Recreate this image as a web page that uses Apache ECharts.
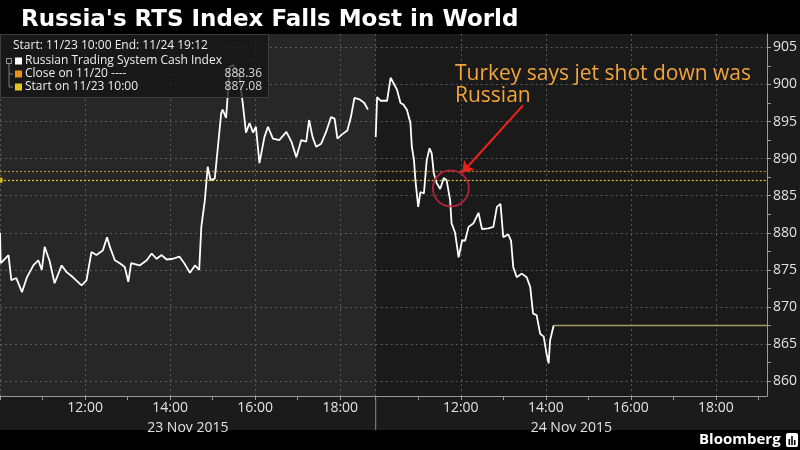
<!DOCTYPE html>
<html><head><meta charset="utf-8">
<script src="https://cdn.jsdelivr.net/npm/echarts@6/dist/echarts.min.js"></script>
<style>html,body{margin:0;padding:0;background:#000}#c{width:800px;height:450px}</style>
</head><body><div id="c"></div>
<script>
// ---------- data ----------
const titleText = "Russia's RTS Index Falls Most in World";
const dayLabels = ['23 Nov 2015', '24 Nov 2015'];
const sessionDay1 = ['10:00', '18:50'];
const sessionDay2 = ['10:00', '19:12'];

const day1Times = ['10:00','10:01','10:07','10:12','10:16','10:23','10:31','10:38','10:47','10:54','10:59','11:03','11:10','11:17','11:27','11:34','11:43','11:55','12:02','12:09','12:16','12:25','12:31','12:35','12:42','12:49','12:56','13:01','13:05','13:17','13:27','13:34','13:41','13:48','13:55','14:04','14:13','14:20','14:28','14:35','14:41','14:44','14:49','14:53','14:57','15:03','15:07','15:12','15:14','15:19','15:24','15:29','15:33','15:38','15:43','15:47','15:52','15:57','16:01','16:06','16:13','16:18','16:25','16:34','16:44','16:51','16:58','17:05','17:12','17:16','17:21','17:26','17:33','17:40','17:47','17:52','17:56','18:03','18:10','18:15','18:20','18:27','18:34','18:39'];
const day1Values = [880.0,875.9,876.5,877.0,873.6,873.9,872.0,874.0,875.6,876.3,875.0,878.1,876.2,873.2,875.6,874.7,874.0,872.9,873.6,877.4,877.0,877.6,879.4,878.1,876.3,875.9,875.4,873.4,875.9,875.6,876.3,877.2,876.5,877.0,876.4,876.5,876.8,875.9,874.6,875.6,875.0,880.8,884.4,888.9,887.1,887.3,891.2,896.1,896.6,895.5,902.4,902.6,902.0,900.9,897.0,893.5,894.8,893.5,894.3,889.4,892.9,894.3,892.7,892.5,893.6,892.3,890.2,892.5,892.3,895.2,892.9,891.6,892.0,893.6,895.6,895.4,892.7,893.3,893.8,895.6,898.2,898.0,897.5,896.6];

const day2Times = ['10:00','10:02','10:07','10:16','10:21','10:25','10:30','10:35','10:39','10:44','10:49','10:51','10:54','10:56','11:00','11:03','11:08','11:12','11:16','11:19','11:22','11:26','11:31','11:36','11:40','11:45','11:47','11:52','11:57','12:02','12:06','12:11','12:18','12:25','12:30','12:39','12:46','12:51','12:56','13:00','13:07','13:11','13:14','13:19','13:26','13:33','13:38','13:42','13:47','13:52','13:57','14:01','14:04','14:06','14:11'];
const day2Values = [892.9,898.3,897.8,897.8,900.9,900.2,899.3,897.5,897.3,896.6,894.8,891.6,889.8,887.1,883.5,885.5,885.3,889.8,891.4,890.7,888.0,886.7,885.9,887.4,887.1,884.4,881.3,880.0,876.7,879.0,878.9,880.8,881.3,882.7,880.5,880.6,880.8,883.5,883.9,879.4,879.8,878.9,875.4,874.0,874.5,874.0,872.7,869.1,868.9,866.4,866.0,863.7,862.4,865.5,867.5];

const lastPriceTimes = ['14:11', '19:12'];
const lastPrice = 867.5;
const closeOn1120 = 888.36;
const startOn1123 = 887.08;

const yLabelValues = [860, 865, 870, 875, 880, 885, 890, 895, 900, 905];
const yTickValues = [860, 862.5, 865, 867.5, 870, 872.5, 875, 877.5, 880, 882.5, 885, 887.5, 890, 892.5, 895, 897.5, 900, 902.5, 905];
const yRange = [858, 906.8];
const hourTicks = ['10:00','11:00','12:00','13:00','14:00','15:00','16:00','17:00','18:00','19:00'];
const labelHours = ['12:00','14:00','16:00','18:00'];
const gridHours = ['10:00','12:00','14:00','16:00','18:00'];

const legendHeader = 'Start: 11/23 10:00 End: 11/24 19:12';
const legendNames = ['Russian Trading System Cash Index', 'Close on 11/20 ----', 'Start on 11/23 10:00'];
const legendValues = ['', '888.36', '887.08'];

const annotationLines = ['Turkey says jet shot down was', 'Russian'];
const annotationCircle = ['11:46', 886.0];
const annotationArrow = [['13:28', 897.2], ['12:02', 888.1]];

// ---------- helpers ----------
const toMin = t => { const p = t.split(':'); return +p[0] * 60 + +p[1]; };
const fmt = v => String(Math.floor(v / 60)).padStart(2, '0') + ':' + String(v % 60).padStart(2, '0');
const pairs = (ts, vs) => ts.map((t, i) => [toMin(t), vs[i]]);

const COL = {
  line: '#ffffff', grid: '#5a5a5a', axis: '#9a9a9a', text: '#e2e2e2',
  close: '#d0922e', start: '#dcc82c', last: '#a39b5c',
  legendClose: '#ef8f16', legendStart: '#e2c61c',
  note: '#f2a53a', arrow: '#e8231c', circle: '#b5213d'
};
const FONT = '"Open Sans", "Noto Sans", sans-serif';
const TITLE_FONT = '"DejaVu Sans", "Open Sans", sans-serif';

const plotTop = 34, plotBottom = 54, splitX = 375.7, rightPad = 33;

function xAxisFor(i, session) {
  const lo = toMin(session[0]), hi = toMin(session[1]);
  return {
    type: 'value', gridIndex: i, min: lo, max: hi,
    axisLine: { show: true, lineStyle: { color: COL.axis, width: 1 } },
    axisTick: { show: true, length: 4, lineStyle: { color: COL.axis },
      customValues: hourTicks.map(toMin).filter(v => v >= lo && v <= hi) },
    axisLabel: { show: true, color: COL.text, fontSize: 14, fontFamily: FONT, margin: 5,
      customValues: labelHours.map(toMin).filter(v => v > lo && v < hi), formatter: v => fmt(v) },
    splitLine: { show: false },
    name: dayLabels[i], nameLocation: 'middle', nameGap: 25,
    nameTextStyle: { color: COL.text, fontSize: 14, fontFamily: FONT }
  };
}

function yAxisFor(i, showLabels) {
  return {
    type: 'value', gridIndex: i, min: yRange[0], max: yRange[1], position: 'right',
    axisLine: { show: showLabels, lineStyle: { color: COL.axis } },
    axisTick: { show: showLabels, inside: false, length: 4, lineStyle: { color: COL.axis }, customValues: yTickValues },
    axisLabel: { show: showLabels, color: COL.text, fontSize: 14, fontFamily: FONT, margin: 6, customValues: yLabelValues },
    splitLine: { show: false }
  };
}

function gridMarkLines(session) {
  const lo = toMin(session[0]), hi = toMin(session[1]);
  const dotted = { color: COL.grid, type: [2, 3], width: 1 };
  const data = yLabelValues.map(v => ({ yAxis: v, lineStyle: dotted }))
    .concat(gridHours.map(toMin).filter(v => v >= lo && v < hi).map(v => ({ xAxis: v, lineStyle: dotted })))
    .concat([
      { yAxis: closeOn1120, lineStyle: { color: COL.close, type: [2, 2], width: 1.2, opacity: 0.9 } },
      { yAxis: startOn1123, lineStyle: { color: COL.start, type: [2, 2], width: 1.2 } }
    ]);
  return { silent: true, symbol: 'none', z: 1, label: { show: false }, animation: false, data };
}

const chart = echarts.init(document.getElementById('c'), null, { renderer: 'canvas' });

const legendY = [61, 74, 87];
const legendSwatch = [COL.line, COL.legendClose, COL.legendStart];
const legendGraphics = [
  { type: 'rect', z: 100, shape: { x: 0.5, y: 34.5, width: 268, height: 63 },
    style: { fill: 'rgba(20,20,20,0.78)', stroke: '#3e3e3e', lineWidth: 1 } },
  { type: 'text', z: 101, style: { text: legendHeader, x: 13, y: 46, fill: '#eeeeee', font: '12px ' + FONT, verticalAlign: 'middle', textVerticalAlign: 'middle' } },
  { type: 'rect', z: 101, shape: { x: 6.5, y: 58.5, width: 5, height: 5 }, style: { fill: 'none', stroke: '#9a9a9a', lineWidth: 1 } },
  { type: 'polyline', z: 101, shape: { points: [[9, 64], [9, 87], [13, 87]] }, style: { stroke: '#7a7a7a', lineWidth: 1, fill: null } },
  { type: 'polyline', z: 101, shape: { points: [[9, 74], [13, 74]] }, style: { stroke: '#7a7a7a', lineWidth: 1, fill: null } }
];
legendNames.forEach((n, i) => {
  legendGraphics.push({ type: 'rect', z: 101, shape: { x: 15, y: legendY[i] - 3.5, width: 7, height: 7 }, style: { fill: legendSwatch[i] } });
  legendGraphics.push({ type: 'text', z: 101, style: { text: n, x: 25, y: legendY[i], fill: '#eeeeee', font: '12px ' + FONT, verticalAlign: 'middle', textVerticalAlign: 'middle' } });
  if (legendValues[i]) legendGraphics.push({ type: 'text', z: 101, style: { text: legendValues[i], x: 262, y: legendY[i], fill: '#d8d8d8', font: '12px ' + FONT, align: 'right', textAlign: 'right', verticalAlign: 'middle', textVerticalAlign: 'middle' } });
});

const noteY = [74, 96.5];
const noteGraphics = annotationLines.map((t, i) => ({ type: 'text', z: 10,
  style: { text: t, x: 455, y: noteY[i], fill: COL.note, font: '21px ' + FONT, verticalAlign: 'middle', textVerticalAlign: 'middle' } }));

const option = {
  animation: false,
  backgroundColor: '#1b1b1b',
  title: { text: titleText, left: 16, top: 4,
    textStyle: { color: '#ffffff', fontSize: 23, fontWeight: 'bold', fontFamily: TITLE_FONT } },
  grid: [
    { left: 0, right: 800 - splitX, top: plotTop, bottom: plotBottom, show: true, backgroundColor: '#272727', borderWidth: 0 },
    { left: splitX, right: rightPad, top: plotTop, bottom: plotBottom, show: true, backgroundColor: '#1a1a1a', borderWidth: 0 }
  ],
  xAxis: [xAxisFor(0, sessionDay1), xAxisFor(1, sessionDay2)],
  yAxis: [yAxisFor(0, false), yAxisFor(1, true)],
  graphic: [
    { type: 'rect', z: -5, shape: { x: 0, y: 0, width: 800, height: plotTop }, style: { fill: '#000000' } },
    { type: 'rect', z: -5, shape: { x: 0, y: 430, width: 800, height: 20 }, style: { fill: '#000000' } },
    { type: 'line', z: 10, shape: { x1: splitX, y1: 396, x2: splitX, y2: 430 }, style: { stroke: '#8a8a8a', lineWidth: 1 } },
    { type: 'text', z: 10, style: { text: 'Bloomberg', x: 699, y: 440, fill: '#ffffff', font: 'bold 15px ' + FONT, verticalAlign: 'middle', textVerticalAlign: 'middle' } },
    { type: 'rect', z: 10, shape: { x: 786, y: 433, width: 12, height: 14, r: 2 }, style: { fill: '#ffffff' } },
    { type: 'rect', z: 11, shape: { x: 788.5, y: 439, width: 1.6, height: 6 }, style: { fill: '#000' } },
    { type: 'rect', z: 11, shape: { x: 791.2, y: 436, width: 1.6, height: 9 }, style: { fill: '#000' } },
    { type: 'rect', z: 11, shape: { x: 793.9, y: 440, width: 1.6, height: 5 }, style: { fill: '#000' } }
  ].concat(noteGraphics, legendGraphics),
  series: [
    { name: 'RTS day 1', type: 'line', xAxisIndex: 0, yAxisIndex: 0, z: 3,
      data: pairs(day1Times, day1Values), showSymbol: false, symbol: 'none',
      lineStyle: { color: COL.line, width: 1.8 }, markLine: gridMarkLines(sessionDay1) },
    { name: 'RTS day 2', type: 'line', xAxisIndex: 1, yAxisIndex: 1, z: 3,
      data: pairs(day2Times, day2Values), showSymbol: false, symbol: 'none',
      lineStyle: { color: COL.line, width: 1.8 }, markLine: gridMarkLines(sessionDay2) },
    { name: 'Last', type: 'line', xAxisIndex: 1, yAxisIndex: 1, z: 2,
      data: lastPriceTimes.map(t => [toMin(t), lastPrice]), showSymbol: false, symbol: 'none',
      lineStyle: { color: COL.last, width: 1.5 },
      markLine: { silent: true, z: 6, symbol: ['none', 'arrow'], symbolSize: 11, label: { show: false },
        lineStyle: { color: COL.arrow, width: 2, type: 'solid' },
        data: [[{ coord: [toMin(annotationArrow[0][0]), annotationArrow[0][1]] }, { coord: [toMin(annotationArrow[1][0]), annotationArrow[1][1]] }]] },
      markPoint: { silent: true, z: 6, symbol: 'circle', symbolSize: 36, label: { show: false },
        itemStyle: { color: 'rgba(0,0,0,0)', borderColor: COL.circle, borderWidth: 1.8 },
        data: [{ coord: [toMin(annotationCircle[0]), annotationCircle[1]] }] } },
    { name: 'Start', type: 'scatter', xAxisIndex: 0, yAxisIndex: 0, z: 4, clip: false,
      data: [[toMin(sessionDay1[0]), startOn1123]], symbolSize: 6, itemStyle: { color: COL.start } }
  ]
};
chart.setOption(option);
</script>
</body></html>
